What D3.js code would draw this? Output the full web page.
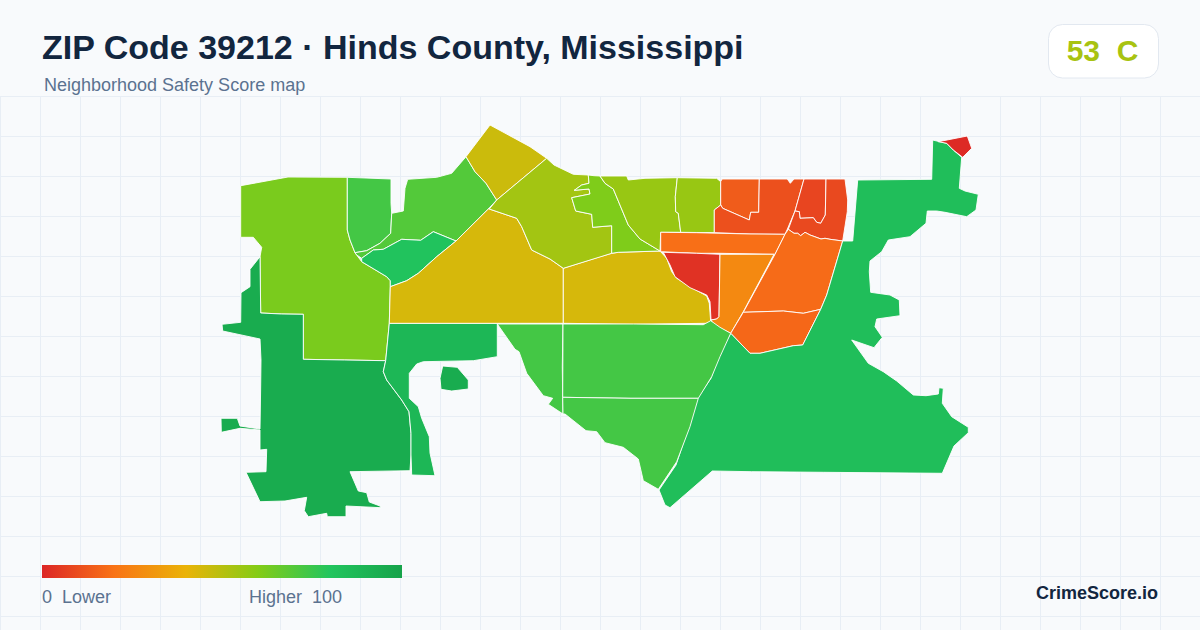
<!DOCTYPE html>
<html>
<head>
<meta charset="utf-8">
<script src="https://cdn.jsdelivr.net/npm/d3@7"></script>
<style>
    html, body { margin: 0; padding: 0; background: #f8fafc; }
    svg { display: block; }
    text { font-family: "Liberation Sans", Arial, sans-serif; white-space: pre; }
</style>
</head>
<body>
<div id="chart"></div>
<script>
// Safety score per tract
const tractScores = [62, 95, 88, 95, 73, 70, 81, 46, 44, 44, 54, 61, 56, 56, 14, 11, 8, 9, 19, 3, 27, 18, 17, 84, 1, 73, 73, 73];

// Tract outlines in map units
const tractRings = [
    [[240.7,185.7],[288,177],[347.3,177.3],[347.3,230],[350,240],[355,252.7],[356.7,255],[361.7,261.7],[386.7,276.7],[390.3,280.7],[390.3,286.7],[389.3,323.3],[385.7,360.7],[344.7,360],[303.3,359.3],[303.3,314.3],[281.7,314],[260.7,313],[260,256.7],[261.7,247.3],[253.3,237.3],[240.7,237.3]],
    [[260,256.7],[250,269.3],[250,286.7],[241,292.7],[240.7,322.3],[222,324.3],[222.7,331],[260,339],[261,360],[260.7,385],[260,429],[240,426],[237.3,418.3],[221,418.3],[221.3,432.3],[240,428.3],[260,430],[260,450],[266.7,449.3],[266,471.7],[246,472.3],[260,501.7],[285,501],[306.7,497.3],[304.3,510.7],[308.3,516.7],[326.7,513.3],[327.3,516.7],[346,516.7],[346,506],[381,507.7],[380,506],[369.3,502],[366.7,492.7],[358.3,491],[350,471.7],[410,470.7],[411,455],[411,433.3],[409,411.7],[401.7,400],[386.7,380],[383.3,371.7],[385.7,360.7],[344.7,360],[303.3,359.3],[303.3,314.3],[281.7,314],[260.7,313]],
    [[389.3,323.3],[497.3,323.3],[497.3,356.7],[473.3,360.7],[423.3,361.7],[416.7,364],[409.3,373.3],[409.3,398.3],[418.3,406.7],[421.7,418.3],[429.3,436.7],[430,453],[435,475.7],[411.7,475],[411,455],[411,433.3],[409,411.7],[401.7,400],[386.7,380],[383.3,371.7],[385.7,360.7]],
    [[442.7,366],[457.3,367.3],[468.3,380],[468.3,389],[451.7,391],[441,389.3],[440,378.3]],
    [[347.3,177.3],[391,179],[391,203.3],[391.7,213.3],[390.7,233.3],[380,243.3],[366.7,250.7],[355,252.7],[350,240],[347.3,230]],
    [[407.7,179.3],[436.7,177.3],[451.7,173.3],[466,156.7],[475,171.7],[486,183.3],[496.7,200],[488.3,209],[456,241],[433.3,231.7],[420.7,240.3],[401.7,239.3],[383.3,249.3],[373.3,250],[361.7,258.3],[356.7,255],[355,252.7],[366.7,250.7],[380,243.3],[390.7,233.3],[391.7,213.3],[403.3,211],[405,188.3]],
    [[361.7,258.3],[373.3,250],[383.3,249.3],[401.7,239.3],[420.7,240.3],[433.3,231.7],[456,241],[436.7,256.7],[418.3,273.3],[406.7,280.7],[390.3,286.7],[390.3,280.7],[386.7,276.7],[361.7,261.7]],
    [[490,125],[530,146.7],[546.7,158.3],[496.7,200],[486,183.3],[475,171.7],[466,156.7]],
    [[489.3,209],[516.7,218.3],[521.7,226.7],[531.7,250],[550,259],[563.3,268.3],[563.3,323.3],[389.3,323.3],[390.3,286.7],[406.7,280.7],[418.3,273.3],[436.7,256.7],[456,241],[488.3,209]],
    [[563.3,268.3],[600,256.7],[611.7,253.3],[618.3,252.3],[660,251],[666.7,258.3],[671.7,271.7],[676.7,278.3],[690,286.7],[706.7,296],[709.3,303.3],[710.7,321.7],[706.7,323.3],[633.3,324.3],[563.3,323.3]],
    [[496.7,200],[546.7,158.3],[554,165],[573.3,174.3],[588.3,175],[589,183.3],[581.7,185],[574.3,190.3],[589,189],[590,194],[571.7,197.7],[575.7,211],[591.7,214.3],[592.7,227.3],[611.7,225.7],[611.7,253.3],[563.3,268.3],[550,259],[531.7,250],[521.7,226.7],[516.7,218.3],[489.3,209]],
    [[588.3,175],[594,175.7],[600,176],[605,183.3],[613.3,189],[628.3,225],[640,239],[660,251],[618.3,252.3],[611.7,253.3],[611.7,225.7],[592.7,227.3],[591.7,214.3],[575.7,211],[571.7,197.7],[590,194],[589,189],[574.3,190.3],[581.7,185],[589,183.3]],
    [[600,176],[626.7,176],[628.3,180],[645,178.3],[677.3,177.7],[675.3,196.7],[675.7,211.7],[678.3,213.3],[680.7,232.3],[660.7,232.3],[660,251],[640,239],[628.3,225],[613.3,189],[605,183.3]],
    [[677.3,177.7],[716.7,178.3],[720.7,181.7],[720.7,205],[714.3,210],[714.3,232.7],[680.7,232.3],[678.3,213.3],[675.7,211.7],[675.3,196.7]],
    [[722,179],[759.3,179],[758.7,212.3],[750.7,212.3],[749.3,220],[722.7,208.3],[720.7,205],[720.7,181.7]],
    [[759.3,179],[787.3,179],[790.3,183.3],[794,179],[804,179],[795,211],[787.3,229.3],[785,234.3],[750,234],[714.3,232.7],[714.3,210],[720.7,205],[722.7,208.3],[749.3,220],[750.7,212.3],[758.7,212.3]],
    [[804,179],[826,179],[825.3,215],[820.7,223.3],[816.7,222.3],[813.3,217.7],[800,218.3],[799.3,211.7],[795,211]],
    [[827.3,179],[845,179],[847.7,200],[847.3,211.7],[842.7,241],[830,239.3],[825,238.3],[821,239],[810,235],[805,232.3],[800.7,235.7],[797.7,233.3],[794,233.3],[788.3,229.3],[795,211],[799.3,211.7],[800,218.3],[813.3,217.7],[816.7,222.3],[820.7,223.3],[825.3,215],[826,179]],
    [[660.7,232.3],[696.7,232.7],[750,234],[785,234.3],[775,254.3],[720,253.3],[696.7,253.3],[660.7,251.7]],
    [[663.3,252.3],[696.7,253.3],[720,254.3],[719,316.7],[716.7,319],[711,320],[710,301.7],[706.7,295],[690,287.7],[675,276.7],[670,265]],
    [[720,254.3],[774,254.3],[743.3,311.7],[730.7,333.3],[720.7,328.3],[713.3,324],[711,320],[716.7,319],[719,316.7]],
    [[785,234.3],[788.3,229.3],[794,233.3],[797.7,233.3],[800.7,235.7],[805,232.3],[810,235],[821,239],[825,238.3],[830,239.3],[842.7,241],[826.7,295],[820.7,309.3],[803.3,313.3],[783.3,311],[743.3,312.3],[775,254.3]],
    [[743.3,312.3],[783.3,311],[803.3,313.3],[820.7,309.3],[802.7,345],[793.3,345.7],[760,353.3],[750,353.3],[730.7,333.3]],
    [[932.7,140],[936.7,141],[946.7,143.3],[953.3,150],[961.7,157.3],[959.3,188.3],[965,191],[978.3,194.3],[976,210],[966.7,216.7],[945,212.3],[936.7,211],[927.3,211],[926,223.3],[910,236.7],[888.3,240],[881.7,251.7],[870,261],[869.3,271.7],[870.7,292.3],[890,295],[899.3,300],[900,315.7],[876.7,319],[875,326.7],[882.3,337.3],[874,347.7],[851.7,340],[868.3,363.3],[883.3,371.7],[896.7,381],[913.3,395],[926,395.7],[938.3,394],[939,387.7],[943.3,388.3],[942.3,403.3],[951.7,416.7],[968.3,427.3],[968.3,432.7],[954,446],[942.3,473.3],[823.3,472.3],[751.7,471.7],[712.3,471],[670,507.7],[665,505],[659,490],[676,465],[690,423.3],[697.3,398.3],[711,378.3],[718.3,356.7],[730.7,333.3],[750,353.3],[760,353.3],[793.3,345.7],[802.7,345],[820.7,309.3],[826.7,295],[842.7,241],[852.7,241],[857.7,180],[931.7,179.3]],
    [[938.3,141.7],[967.3,136],[971.7,148.3],[962.7,157.3],[953.3,150],[946.7,143.3]],
    [[497.3,324],[563,324],[562.3,366.7],[562.7,397.3],[563,414],[548.3,404.3],[552.7,398.3],[543.3,395.7],[526.7,373.3],[519,351.7],[515,349.3]],
    [[563,324],[633.3,324],[703.3,324.7],[710.7,320.7],[720,327.3],[730.7,333.3],[720,356.7],[711.7,376.7],[698.3,398.3],[630,398.3],[562.7,397.3]],
    [[562.7,397.3],[630,398.3],[698.3,398.3],[690,426.7],[676.7,461.7],[658.3,489.3],[643.3,480.7],[638.3,459],[623.3,447.3],[605,442.7],[596.7,431.7],[586,430.7],[565,414],[563,414]]
];

const legendStops = [0, 20, 40, 60, 80, 100];
const legendColors = ["#dc2626", "#f97316", "#eab308", "#84cc16", "#22c55e", "#16a34a"];
const legendLeft = "0  Lower";
const legendRight = "Higher  100";

const titleText = "ZIP Code 39212 · Hinds County, Mississippi";
const subtitleText = "Neighborhood Safety Score map";
const brandText = "CrimeScore.io";
const zipScore = 53;
const zipGrade = "C";

const width = 1200;
const height = 630;
const gridTop = 96;
const gridStep = 40;

const colorScale = d3.scaleLinear().domain(legendStops).range(legendColors);

const svg = d3.select("#chart")
    .append("svg")
    .attr("width", width)
    .attr("height", height);

svg.append("rect")
    .attr("width", width)
    .attr("height", height)
    .attr("fill", "#f8fafc");

// Grid behind the map
const gridGroup = svg.append("g")
    .attr("stroke", "#e8eef5")
    .attr("stroke-width", 1);

gridGroup.selectAll("line.v")
    .data(d3.range(0, width, gridStep))
    .join("line")
    .attr("class", "v")
    .attr("x1", d => d + 0.5)
    .attr("x2", d => d + 0.5)
    .attr("y1", gridTop)
    .attr("y2", height);

gridGroup.selectAll("line.h")
    .data(d3.range(gridTop, height, gridStep))
    .join("line")
    .attr("class", "h")
    .attr("x1", 0)
    .attr("x2", width)
    .attr("y1", d => d + 0.5)
    .attr("y2", d => d + 0.5);

// Map. geoPath wants closed rings, so repeat the first point
const tracts = tractRings.map((ring, i) => ({
    type: "Feature",
    properties: { score: tractScores[i] },
    geometry: { type: "Polygon", coordinates: [ring.concat([ring[0]])] }
}));

const path = d3.geoPath(d3.geoIdentity());

svg.append("g")
    .selectAll("path")
    .data(tracts)
    .join("path")
    .attr("d", path)
    .attr("fill", d => colorScale(d.properties.score))
    .attr("stroke", "#ffffff")
    .attr("stroke-width", 0.9)
    .attr("stroke-linejoin", "round");

// Header
svg.append("text")
    .attr("x", 42)
    .attr("y", 59)
    .attr("font-size", 34)
    .attr("font-weight", 700)
    .attr("fill", "#12263f")
    .text(titleText);

svg.append("text")
    .attr("x", 44)
    .attr("y", 91)
    .attr("font-size", 18)
    .attr("fill", "#5b7290")
    .text(subtitleText);

svg.append("rect")
    .attr("x", 1048.5)
    .attr("y", 24.5)
    .attr("width", 110)
    .attr("height", 53.5)
    .attr("rx", 14)
    .attr("fill", "#ffffff")
    .attr("stroke", "#e2e8f0");

svg.append("text")
    .attr("x", 1102.5)
    .attr("y", 61)
    .attr("text-anchor", "middle")
    .attr("font-size", 30)
    .attr("font-weight", 700)
    .attr("fill", colorScale(zipScore))
    .text(zipScore + "  " + zipGrade);

// Legend
const legendX = d3.scaleLinear().domain([0, 100]).range([42, 402]);

const gradient = svg.append("defs")
    .append("linearGradient")
    .attr("id", "scoreGradient");

gradient.selectAll("stop")
    .data(legendStops)
    .join("stop")
    .attr("offset", d => d + "%")
    .attr("stop-color", d => colorScale(d));

svg.append("rect")
    .attr("x", legendX(0))
    .attr("y", 565)
    .attr("width", legendX(100) - legendX(0))
    .attr("height", 13)
    .attr("fill", "url(#scoreGradient)");

svg.append("text")
    .attr("x", 42)
    .attr("y", 603)
    .attr("font-size", 18)
    .attr("fill", "#5b7290")
    .text(legendLeft);

svg.append("text")
    .attr("x", 249)
    .attr("y", 603)
    .attr("font-size", 18)
    .attr("fill", "#5b7290")
    .text(legendRight);

svg.append("text")
    .attr("x", 1158)
    .attr("y", 599)
    .attr("text-anchor", "end")
    .attr("font-size", 18)
    .attr("font-weight", 700)
    .attr("fill", "#12263f")
    .text(brandText);
</script>
</body>
</html>
